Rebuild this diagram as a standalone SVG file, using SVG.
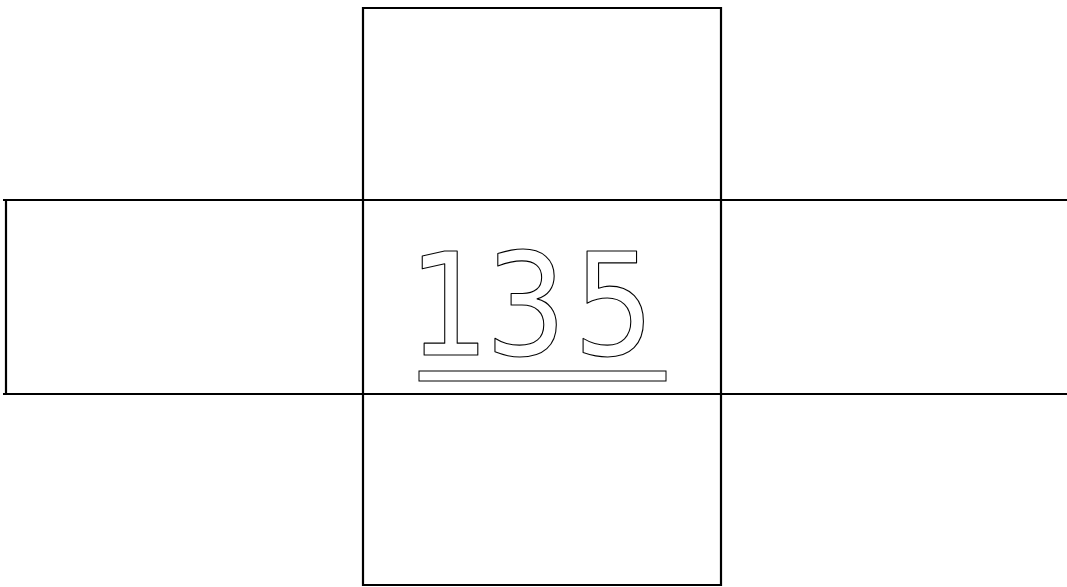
<svg xmlns="http://www.w3.org/2000/svg" width="1067" height="587" viewBox="0 0 1067 587">
<style>
.ln{stroke:#000;stroke-width:2.2;fill:none}
.num{font-family:"DejaVu Sans Condensed","DejaVu Sans",sans-serif;font-size:142px;fill:#fff;stroke:#000;stroke-width:1.1;stroke-linejoin:round;text-anchor:middle}
</style>
<rect width="1067" height="587" fill="#fff"/>
<g id="net">
<path class="ln" d="M363,8 H721 M363,7 V586 M721,7 V586 M362,585 H722"/>
<path class="ln" d="M3,200 H1067 M3,394 H1067 M6,199 V395"/>
</g>
<g id="label">
<text class="num" y="355"><tspan x="449">1</tspan><tspan x="526">3</tspan><tspan x="614">5</tspan></text>
<rect x="419" y="371" width="247" height="10" fill="none" stroke="#000" stroke-width="1"/>
</g>
</svg>
